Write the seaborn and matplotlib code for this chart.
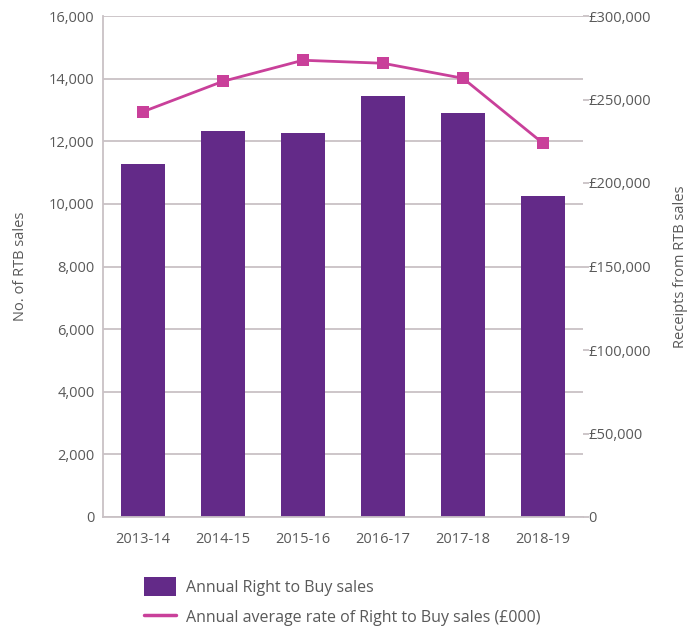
"""
Right to Buy: продажи и средняя ставка
"""
import numpy as np
import pandas as pd
import matplotlib
matplotlib.use('Agg')
import matplotlib.pyplot as plt
import seaborn as sns
from matplotlib.patches import Patch
from matplotlib.lines import Line2D
from matplotlib.ticker import FuncFormatter

years = ['2013-14', '2014-15', '2015-16', '2016-17', '2017-18', '2018-19']
rtb_sales = [11270, 12330, 12260, 13450, 12900, 10250]
avg_rate = [242700, 260900, 273500, 271700, 262700, 223800]

BAR_COLOR = '#632a88'
LINE_COLOR = '#c9409a'
GRID_COLOR = '#c9c1c5'
TEXT_COLOR = '#595959'

sns.set_theme(style='white')
plt.rcParams['font.family'] = ['Open Sans', 'DejaVu Sans']
plt.rcParams['text.color'] = TEXT_COLOR

df = pd.DataFrame({'year': years, 'sales': rtb_sales, 'rate': avg_rate})

fig = plt.figure(figsize=(6.9, 6.27), dpi=100)
ax = fig.add_axes([103 / 690, 1 - 517 / 627, 480 / 690, 501 / 627])

sns.barplot(data=df, x='year', y='sales', color=BAR_COLOR, saturation=1,
            width=0.56, ax=ax, zorder=2, edgecolor='none', linewidth=0)
ax.set_ylim(0, 16000)
ax.set_yticks(np.arange(0, 16001, 2000))
ax.yaxis.set_major_formatter(FuncFormatter(lambda v, p: f'{int(v):,}'))
ax.set_xlim(-0.5, len(years) - 0.5)
ax.grid(True, axis='y', color=GRID_COLOR, linewidth=1.3, zorder=0)
ax.set_axisbelow(True)
for side in ['top', 'right']:
    ax.spines[side].set_visible(False)
for side in ['left', 'bottom']:
    ax.spines[side].set_color(GRID_COLOR)
    ax.spines[side].set_linewidth(1.3)
ax.set_xlabel('')
ax.set_ylabel('No. of RTB sales', fontsize=10.5, color=TEXT_COLOR, labelpad=15)
ax.tick_params(axis='y', labelsize=10.5, colors=TEXT_COLOR, length=0, pad=6)
ax.tick_params(axis='x', labelsize=10.5, colors=TEXT_COLOR, length=0, pad=11)

ax2 = ax.twinx()
sns.lineplot(x=np.arange(len(years)), y=df['rate'].values, ax=ax2,
             color=LINE_COLOR, linewidth=2, marker='s', markersize=9,
             markeredgewidth=0, legend=False)
ax2.set_ylim(0, 300000)
ax2.set_yticks(np.arange(0, 300001, 50000))
ax2.yaxis.set_major_formatter(
    FuncFormatter(lambda v, p: '0' if v == 0 else f'£{int(v):,}'))
for side in ['top', 'right', 'left', 'bottom']:
    ax2.spines[side].set_visible(False)
ax2.set_ylabel('Receipts from RTB sales', fontsize=10.5, color=TEXT_COLOR,
               labelpad=16)
ax2.tick_params(axis='y', labelsize=10.5, colors=TEXT_COLOR, length=4,
                width=1.3, color=GRID_COLOR, pad=0)

# Легенда под графиком
handles = [
    Patch(facecolor=BAR_COLOR, edgecolor='none'),
    Line2D([0], [0], color=LINE_COLOR, linewidth=2.5),
]
labels = ['Annual Right to Buy sales',
          'Annual average rate of Right to Buy sales (£000)']
fig.legend(handles, labels, loc='upper left',
           bbox_to_anchor=(130 / 690, 1 - 563 / 627), frameon=False,
           fontsize=11.5, handlelength=2.0, handleheight=1.4,
           labelspacing=0.75, handletextpad=0.6)

plt.savefig('out.png', dpi=100)
